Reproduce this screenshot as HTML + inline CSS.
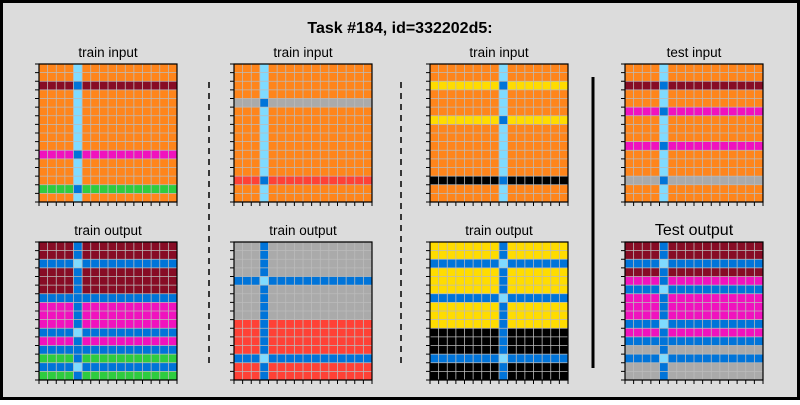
<!DOCTYPE html>
<html><head><meta charset="utf-8"><style>
html,body{margin:0;padding:0;}
body{width:800px;height:400px;overflow:hidden;font-family:"Liberation Sans",sans-serif;}
</style></head><body>
<svg id="chart" width="800" height="400" xmlns="http://www.w3.org/2000/svg">
<rect x="1.5" y="1.5" width="797" height="397" fill="#dcdcdc" stroke="#000" stroke-width="3"/>
<text x="400" y="33" text-anchor="middle" font-size="16" font-weight="bold" font-family="Liberation Sans, sans-serif">Task #184, id=332202d5:</text>
<line x1="209" y1="82" x2="209" y2="367" stroke="#000" stroke-width="1.5" stroke-dasharray="6,5"/>
<line x1="401" y1="82" x2="401" y2="367" stroke="#000" stroke-width="1.5" stroke-dasharray="6,5"/>
<line x1="593" y1="77" x2="593" y2="368" stroke="#000" stroke-width="3"/>
<g id="panels"></g>
</svg>
<script>
const palette = {0:'#000000',1:'#0074D9',2:'#FF4136',3:'#2ECC40',4:'#FFDC00',5:'#AAAAAA',6:'#F012BE',7:'#FF851B',8:'#7FDBFF',9:'#870C25'};
function mk(bg, col, colColor, rows){
  const g=[];
  for(let r=0;r<16;r++){const row=[];for(let c=0;c<16;c++){
    let v=bg[r];
    if(rows[r]!==undefined){v=rows[r][0]; if(c===col) v=rows[r][1];}
    else if(c===col) v=colColor;
    row.push(v);} g.push(row);}
  return g;
}
const in1Rows={2:[9,1],10:[6,1],14:[3,1]};
const out1Bg=[9,9,1,9,9,9,1,6,6,6,1,6,1,3,1,3];
const out1Rows={2:[1,8],6:[1,1],10:[1,8],12:[1,1],14:[1,8]};
const in2Rows={4:[5,1],13:[2,1]};
const out2Bg=[5,5,5,5,1,5,5,5,5,2,2,2,2,1,2,2];
const out2Rows={4:[1,8],13:[1,8]};
const in3Rows={2:[4,1],6:[4,1],13:[0,1]};
const out3Bg=[4,4,1,4,4,4,1,4,4,4,0,0,0,1,0,0];
const out3Rows={2:[1,8],6:[1,8],13:[1,8]};
const in4Rows={2:[9,1],5:[6,1],9:[6,1],13:[5,1]};
const out4Bg=[9,9,1,9,6,1,6,6,6,1,6,1,5,1,5,5];
const out4Rows={2:[1,8],5:[1,8],9:[1,8],11:[1,1],13:[1,8]};
const orange=Array(16).fill(7);
const grids=[
 {t:'train input',x:39,y:64,g:mk(orange,4,8,in1Rows)},
 {t:'train input',x:234,y:64,g:mk(orange,3,8,in2Rows)},
 {t:'train input',x:430,y:64,g:mk(orange,8,8,in3Rows)},
 {t:'test input',x:625,y:64,g:mk(orange,4,8,in4Rows)},
 {t:'train output',x:39,y:242,g:mk(out1Bg,4,1,out1Rows)},
 {t:'train output',x:234,y:242,g:mk(out2Bg,3,1,out2Rows)},
 {t:'train output',x:430,y:242,g:mk(out3Bg,8,1,out3Rows)},
 {t:'Test output',x:625,y:242,g:mk(out4Bg,4,1,out4Rows),big:true},
];
const NS='http://www.w3.org/2000/svg';
const root=document.getElementById('panels');
const S=138, n=16, cs=S/n;
function el(tag,attrs){const e=document.createElementNS(NS,tag);for(const k in attrs)e.setAttribute(k,attrs[k]);return e;}
grids.forEach((p,pi)=>{
  const g=el('g',{});
  
  
  const t=el('text',{x:p.x+S/2,y:p.y-7,'text-anchor':'middle','font-size':p.big?16:13.5,'font-family':'Liberation Sans, sans-serif'});
  
  
  t.textContent=p.t; g.appendChild(t);
  p.g.forEach((row,r)=>row.forEach((v,c)=>{
    const rc=el('rect',{x:p.x+c*cs,y:p.y+r*cs,width:cs,height:cs,fill:palette[v]});
    
    
    g.appendChild(rc);
  }));
  for(let i=1;i<n;i++){
    const a=el('line',{x1:p.x+i*cs,y1:p.y,x2:p.x+i*cs,y2:p.y+S,stroke:'#bbbbbb','stroke-width':0.8});
    
    
    g.appendChild(a);
    const b=el('line',{x1:p.x,y1:p.y+i*cs,x2:p.x+S,y2:p.y+i*cs,stroke:'#bbbbbb','stroke-width':0.8});
    
    
    g.appendChild(b);
  }
  for(let i=0;i<=n;i++){
    const a=el('line',{x1:p.x+i*cs,y1:p.y+S,x2:p.x+i*cs,y2:p.y+S+4,stroke:'#000','stroke-width':1});
    
    
    g.appendChild(a);
    const b=el('line',{x1:p.x-4,y1:p.y+i*cs,x2:p.x,y2:p.y+i*cs,stroke:'#000','stroke-width':1});
    
    
    g.appendChild(b);
  }
  const ax=el('path',{d:`M${p.x} ${p.y} V${p.y+S} H${p.x+S} V${p.y} Z`,fill:'none',stroke:'#000','stroke-width':1.2});
  
  
  g.appendChild(ax);
  root.appendChild(g);
});
</script>
</body></html>
